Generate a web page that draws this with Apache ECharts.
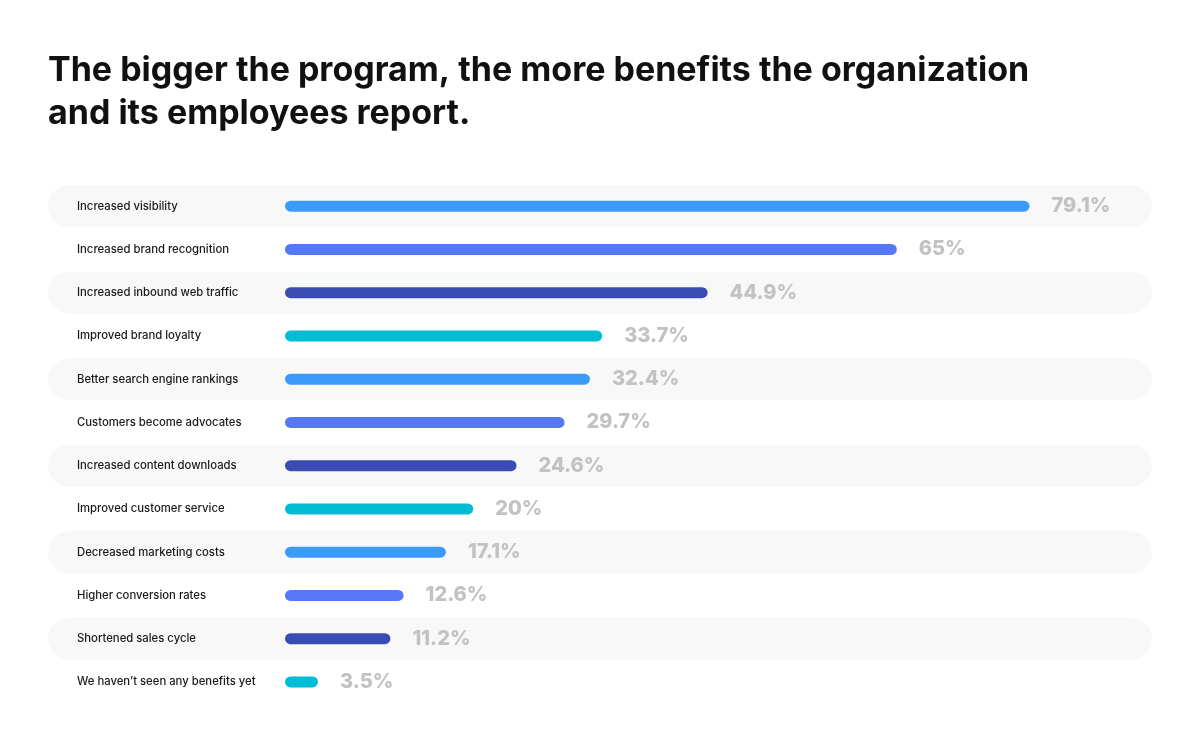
<!DOCTYPE html>
<html>
<head>
<meta charset="utf-8">
<script src="https://cdn.jsdelivr.net/npm/echarts@6/dist/echarts.min.js"></script>
<style>html,body{margin:0;padding:0;background:#fff;}#c{width:1200px;height:737px;}</style>
</head>
<body>
<div id="c"></div>
<script>
const categories = [
  "Increased visibility",
  "Increased brand recognition",
  "Increased inbound web traffic",
  "Improved brand loyalty",
  "Better search engine rankings",
  "Customers become advocates",
  "Increased content downloads",
  "Improved customer service",
  "Decreased marketing costs",
  "Higher conversion rates",
  "Shortened sales cycle",
  "We haven\u2019t seen any benefits yet"
];
const values = [79.1, 65, 44.9, 33.7, 32.4, 29.7, 24.6, 20, 17.1, 12.6, 11.2, 3.5];
const palette = ["#3a9bfa", "#5677f6", "#3a4cb4", "#00bcd4"];
const titleText = "The bigger the program, the more benefits the organization\nand its employees report.";

const FONT = "Inter, 'Noto Sans', sans-serif";
const barData = values.map((v, i) => ({ value: v, itemStyle: { color: palette[i % 4] } }));
const bgData = categories.map((c, i) => (i % 2 === 0 ? 1 : '-'));

const chart = echarts.init(document.getElementById('c'), null, { renderer: 'canvas' });
chart.setOption({
  backgroundColor: '#ffffff',
  animation: false,
  title: {
    text: titleText,
    left: 43, top: 44,
    textStyle: { fontFamily: FONT, fontSize: 34, fontWeight: 700, color: '#111111', lineHeight: 43 }
  },
  grid: [
    { left: 285, right: 162, top: 184.5, bottom: 33.5, containLabel: false },
    { left: 48, right: 48, top: 184.5, bottom: 33.5, containLabel: false }
  ],
  xAxis: [
    { gridIndex: 0, type: 'value', min: 0, max: 80, show: false },
    { gridIndex: 1, type: 'value', min: 0, max: 1, show: false }
  ],
  yAxis: [
    {
      gridIndex: 0, type: 'category', data: categories, inverse: true, z: 10,
      axisLine: { show: false }, axisTick: { show: false }, splitLine: { show: false },
      axisLabel: { align: 'left', margin: 208, fontFamily: FONT, fontSize: 11.3, fontWeight: 500, color: '#1a1a1a' }
    },
    {
      gridIndex: 1, type: 'category', data: categories, inverse: true, show: false
    }
  ],
  series: [
    {
      type: 'bar', xAxisIndex: 1, yAxisIndex: 1, data: bgData, barWidth: 42, z: 0,
      silent: true,
      itemStyle: { color: '#f9f8f9', borderRadius: 21 }
    },
    {
      type: 'bar', xAxisIndex: 0, yAxisIndex: 0, data: barData, barWidth: 11, z: 3,
      itemStyle: { borderRadius: 6 },
      label: {
        show: true, position: 'right', distance: 22,
        formatter: p => p.value + '%',
        fontFamily: FONT, fontSize: 20, fontWeight: 800, color: '#c2c2c2'
      }
    }
  ]
});
</script>
</body>
</html>
